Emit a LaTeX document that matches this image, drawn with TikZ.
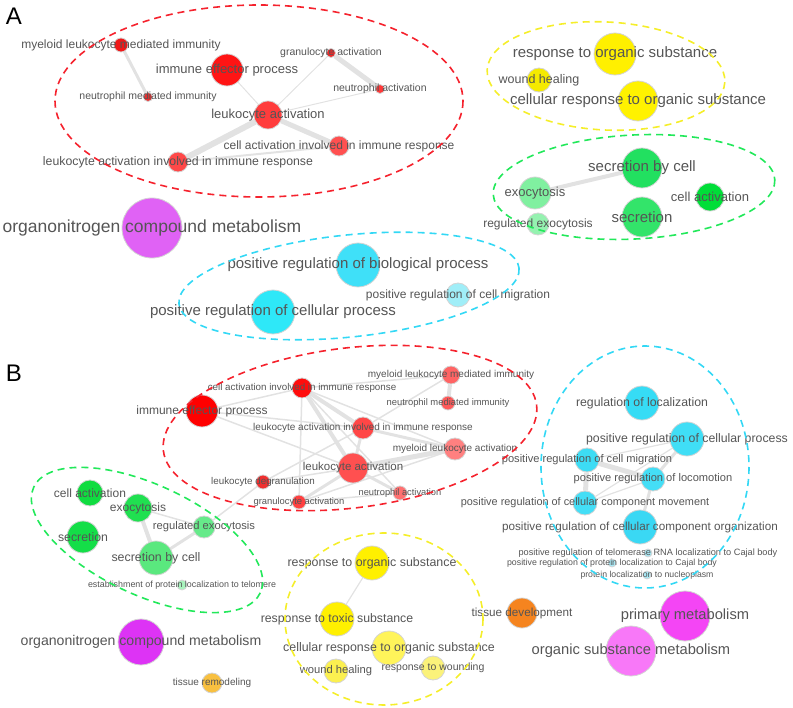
\documentclass[tikz,border=0pt]{standalone}
\usepackage{fontspec}
\setmainfont{Liberation Sans}
\usepackage{xcolor}
\usetikzlibrary{backgrounds}

\definecolor{labelgray}{HTML}{555555}
\definecolor{rimgray}{HTML}{D4D4D4}
\definecolor{linkgray}{HTML}{E2E2E2}
\definecolor{redline}{HTML}{F5222D}
\definecolor{yellowline}{HTML}{F5EE2A}
\definecolor{greenline}{HTML}{22E85A}
\definecolor{cyanline}{HTML}{33D8F5}

\newcommand\fs[1]{\fontsize{#1}{#1}\selectfont}

\begin{document}
\begin{tikzpicture}[
  x=1pt, y=-1pt,
  gonode/.style={
    circle,
    draw=rimgray,
    line width=0.8pt,
    inner sep=0pt,
    minimum size=2*#1
  },
  lbl/.style={
    text=labelgray,
    inner sep=0pt
  },
  link/.style={
    draw=linkgray,
    line width=#1
  },
  link/.default=1.5,
  cluster/.style={
    line width=1.6pt,
    dash pattern=on 7pt off 5pt
  },
  panel/.style={
    font=\fs{24},
    inner sep=0pt
  }
]
\useasboundingbox (0,0) rectangle (793,708);

% Panel letters
\node[panel] (pA) at (14,16) {A};
\node[panel] (pB) at (14,373) {B};

% ---------------- Panel A: terms
\node[gonode=7,  fill={rgb,255:red,240;green,24;blue,24}]   (amlmi)  at (121,45)  {};
\node[gonode=16, fill={rgb,255:red,255;green,20;blue,20}]   (aiep)   at (227,70)  {};
\node[gonode=4.5,fill={rgb,255:red,240;green,40;blue,40}]   (agran)  at (331,53)  {};
\node[gonode=4.5,fill={rgb,255:red,255;green,56;blue,56}]   (aneua)  at (380,89)  {};
\node[gonode=4.5,fill={rgb,255:red,232;green,48;blue,48}]   (aneumi) at (148,97)  {};
\node[gonode=14, fill={rgb,255:red,255;green,60;blue,60}]   (aleuk)  at (268,115) {};
\node[gonode=10, fill={rgb,255:red,255;green,80;blue,80}]   (acaiir) at (339,146) {};
\node[gonode=10, fill={rgb,255:red,255;green,72;blue,72}]   (alaiir) at (178,162) {};
\node[gonode=30, fill={rgb,255:red,224;green,98;blue,245}]  (aorgn)  at (152,228) {};
\node[gonode=21, fill={rgb,255:red,255;green,240;blue,0}]   (aresp)  at (615,54)  {};
\node[gonode=12, fill={rgb,255:red,245;green,234;blue,0}]   (awound) at (539,80)  {};
\node[gonode=20, fill={rgb,255:red,255;green,242;blue,0}]   (acell)  at (638,101) {};
\node[gonode=20, fill={rgb,255:red,34;green,224;blue,96}]   (asecc)  at (642,168) {};
\node[gonode=16, fill={rgb,255:red,128;green,240;blue,160}] (aexo)   at (535,193) {};
\node[gonode=14, fill={rgb,255:red,0;green,222;blue,56}]    (acact)  at (710,197) {};
\node[gonode=20, fill={rgb,255:red,51;green,228;blue,106}]  (asecr)  at (642,217) {};
\node[gonode=11, fill={rgb,255:red,149;green,242;blue,176}] (aregex) at (538,224) {};
\node[gonode=22, fill={rgb,255:red,63;green,224;blue,248}]  (apbio)  at (358,265) {};
\node[gonode=22, fill={rgb,255:red,46;green,232;blue,248}]  (apcell) at (273,312) {};
\node[gonode=12, fill={rgb,255:red,160;green,238;blue,248}] (apmig)  at (458,295) {};

% ---------------- Panel B: terms
\node[gonode=10, fill={rgb,255:red,255;green,12;blue,12}]   (bcaiir) at (302,388) {};
\node[gonode=16, fill={rgb,255:red,255;green,0;blue,0}]     (biep)   at (202,411) {};
\node[gonode=11, fill={rgb,255:red,255;green,70;blue,70}]   (blaiir) at (363,428) {};
\node[gonode=15, fill={rgb,255:red,255;green,80;blue,80}]   (bleuk)  at (353,468) {};
\node[gonode=7,  fill={rgb,255:red,240;green,48;blue,48}]   (bdegr)  at (263,482) {};
\node[gonode=7,  fill={rgb,255:red,255;green,64;blue,64}]   (bgran)  at (299,502) {};
\node[gonode=9,  fill={rgb,255:red,255;green,100;blue,100}] (bmlmi)  at (451,375) {};
\node[gonode=7,  fill={rgb,255:red,255;green,90;blue,90}]   (bneumi) at (448,403) {};
\node[gonode=11, fill={rgb,255:red,255;green,128;blue,128}] (bmla)   at (455,449) {};
\node[gonode=7,  fill={rgb,255:red,255;green,112;blue,112}] (bneua)  at (400,493) {};
\node[gonode=13, fill={rgb,255:red,16;green,220;blue,64}]   (bcact)  at (90,493)  {};
\node[gonode=14, fill={rgb,255:red,32;green,224;blue,80}]   (bexo)   at (138,508) {};
\node[gonode=16, fill={rgb,255:red,20;green,222;blue,72}]   (bsecr)  at (83,537)  {};
\node[gonode=11, fill={rgb,255:red,102;green,234;blue,138}] (bregex) at (204,527) {};
\node[gonode=17, fill={rgb,255:red,90;green,232;blue,126}]  (bsecc)  at (156,558) {};
\node[gonode=5,  fill={rgb,255:red,168;green,242;blue,189}] (bestab) at (182,585) {};
\node[gonode=17, fill={rgb,255:red,54;green,220;blue,245}]  (breglo) at (642,403) {};
\node[gonode=17, fill={rgb,255:red,64;green,222;blue,246}]  (bpcell) at (687,439) {};
\node[gonode=12, fill={rgb,255:red,61;green,220;blue,244}]  (bpmig)  at (587,460) {};
\node[gonode=12, fill={rgb,255:red,68;green,222;blue,246}]  (bploc)  at (653,479) {};
\node[gonode=12, fill={rgb,255:red,68;green,222;blue,246}]  (bpmov)  at (585,503) {};
\node[gonode=17, fill={rgb,255:red,58;green,216;blue,244}]  (bporg)  at (640,527) {};
\node[gonode=4,  fill={rgb,255:red,168;green,232;blue,245}] (btelo)  at (648,553) {};
\node[gonode=4,  fill={rgb,255:red,168;green,232;blue,245}] (bcajal) at (612,563) {};
\node[gonode=4,  fill={rgb,255:red,168;green,232;blue,245}] (bnucl)  at (647,575) {};
\node[gonode=23, fill={rgb,255:red,221;green,51;blue,245}]  (borgn)  at (141,642) {};
\node[gonode=10, fill={rgb,255:red,248;green,192;blue,64}]  (bremod) at (212,683) {};
\node[gonode=17, fill={rgb,255:red,255;green,240;blue,0}]   (bresp)  at (372,563) {};
\node[gonode=17, fill={rgb,255:red,255;green,240;blue,0}]   (btox)   at (337,619) {};
\node[gonode=17, fill={rgb,255:red,255;green,244;blue,90}]  (bcell)  at (389,648) {};
\node[gonode=12, fill={rgb,255:red,251;green,240;blue,80}]  (bwound) at (336,671) {};
\node[gonode=12, fill={rgb,255:red,251;green,242;blue,122}] (bwoundg) at (433,668) {};
\node[gonode=15, fill={rgb,255:red,245;green,132;blue,31}]  (bdev)   at (522,613) {};
\node[gonode=25, fill={rgb,255:red,244;green,69;blue,245}]  (bprim)  at (685,616) {};
\node[gonode=25, fill={rgb,255:red,248;green,120;blue,248}] (bosm)   at (631,651) {};

% Similarity links
\begin{scope}[on background layer]
\draw[link=3] (amlmi) -- (aneumi);
\draw[link=1] (aiep) -- (aleuk);
\draw[link=1] (agran) -- (aleuk);
\draw[link=5] (agran) -- (aneua);
\draw[link=1] (aneua) -- (aleuk);
\draw[link=5] (aleuk) -- (acaiir);
\draw[link=6] (aleuk) -- (alaiir);
\draw[link=2] (alaiir) -- (acaiir);
\draw[link=4] (aexo) -- (asecc);

\draw[link] (biep) -- (bcaiir);
\draw[link] (biep) -- (blaiir);
\draw[link] (biep) -- (bleuk);
\draw[link] (bcaiir) -- (bmlmi);
\draw[link=4] (bcaiir) -- (blaiir);
\draw[link=4] (bcaiir) -- (bleuk);
\draw[link] (bcaiir) -- (bgran);
\draw[link] (bcaiir) -- (bneua);
\draw[link] (bcaiir) -- (bmla);
\draw[link] (blaiir) -- (bmlmi);
\draw[link=3] (blaiir) -- (bleuk);
\draw[link] (blaiir) -- (bdegr);
\draw[link=3] (blaiir) -- (bmla);
\draw[link=5] (bleuk) -- (bmla);
\draw[link=3] (bleuk) -- (bgran);
\draw[link=3] (bleuk) -- (bneua);
\draw[link] (bleuk) -- (bdegr);
\draw[link=4] (bmlmi) -- (bneumi);
\draw[link] (bgran) -- (bneua);
\draw[link] (bgran) -- (bmla);
\draw[link] (bdegr) -- (bregex);
\draw[link=4] (bexo) -- (bsecc);
\draw[link] (bexo) -- (bregex);
\draw[link=3] (bsecc) -- (bregex);
\draw[link=1.2] (bpcell) -- (bpmig);
\draw[link=3] (bpcell) -- (bploc);
\draw[link=1.2] (bpcell) -- (bpmov);
\draw[link=5] (bpmig) -- (bploc);
\draw[link=5] (bpmig) -- (bpmov);
\draw[link=1.2] (bploc) -- (bpmov);
\draw[link=3] (bploc) -- (bporg);
\draw[link=1.2] (bresp) -- (btox);
\end{scope}

% Term names, panel A
\node[lbl, font=\fs{12}]   at (amlmi)  {myeloid leukocyte mediated immunity};
\node[lbl, font=\fs{13}]   at (aiep)   {immune effector process};
\node[lbl, font=\fs{10.5}] at (agran)  {granulocyte activation};
\node[lbl, font=\fs{10.5}] at (aneua)  {neutrophil activation};
\node[lbl, font=\fs{10.5}] at (aneumi) {neutrophil mediated immunity};
\node[lbl, font=\fs{13}]   at (aleuk)  {leukocyte activation};
\node[lbl, font=\fs{12}]   at (acaiir) {cell activation involved in immune response};
\node[lbl, font=\fs{12.3}] at (alaiir) {leukocyte activation involved in immune response};
\node[lbl, font=\fs{17.5}] at (aorgn)  {organonitrogen compound metabolism};
\node[lbl, font=\fs{15}]   at (aresp)  {response to organic substance};
\node[lbl, font=\fs{12.5}] at (awound) {wound healing};
\node[lbl, font=\fs{15}]   at (acell)  {cellular response to organic substance};
\node[lbl, font=\fs{15}]   at (asecc)  {secretion by cell};
\node[lbl, font=\fs{13}]   at (aexo)   {exocytosis};
\node[lbl, font=\fs{13}]   at (acact)  {cell activation};
\node[lbl, font=\fs{15}]   at (asecr)  {secretion};
\node[lbl, font=\fs{12}]   at (aregex) {regulated exocytosis};
\node[lbl, font=\fs{15}]   at (apbio)  {positive regulation of biological process};
\node[lbl, font=\fs{15}]   at (apcell) {positive regulation of cellular process};
\node[lbl, font=\fs{12}]   at (apmig)  {positive regulation of cell migration};

% Term names, panel B
\node[lbl, font=\fs{9.8}]  at (bcaiir) {cell activation involved in immune response};
\node[lbl, font=\fs{12}]   at (biep)   {immune effector process};
\node[lbl, font=\fs{10}]   at (blaiir) {leukocyte activation involved in immune response};
\node[lbl, font=\fs{11.5}] at (bleuk)  {leukocyte activation};
\node[lbl, font=\fs{9.8}]  at (bdegr)  {leukocyte degranulation};
\node[lbl, font=\fs{9.4}]  at (bgran)  {granulocyte activation};
\node[lbl, font=\fs{10}]   at (bmlmi)  {myeloid leukocyte mediated immunity};
\node[lbl, font=\fs{9.4}]  at (bneumi) {neutrophil mediated immunity};
\node[lbl, font=\fs{10}]   at (bmla)   {myeloid leukocyte activation};
\node[lbl, font=\fs{9.3}]  at (bneua)  {neutrophil activation};
\node[lbl, font=\fs{12}]   at (bcact)  {cell activation};
\node[lbl, font=\fs{12}]   at (bexo)   {exocytosis};
\node[lbl, font=\fs{12.3}] at (bsecr)  {secretion};
\node[lbl, font=\fs{11.2}] at (bregex) {regulated exocytosis};
\node[lbl, font=\fs{12.4}] at (bsecc)  {secretion by cell};
\node[lbl, font=\fs{8.9}]  at (bestab) {establishment of protein localization to telomere};
\node[lbl, font=\fs{12.3}] at (breglo) {regulation of localization};
\node[lbl, font=\fs{12.3}] at (bpcell) {positive regulation of cellular process};
\node[lbl, font=\fs{11.1}] at (bpmig)  {positive regulation of cell migration};
\node[lbl, font=\fs{11.1}] at (bploc)  {positive regulation of locomotion};
\node[lbl, font=\fs{10.9}] at (bpmov)  {positive regulation of cellular component movement};
\node[lbl, font=\fs{11.7}] at (bporg)  {positive regulation of cellular component organization};
\node[lbl, font=\fs{9.2}]  at (btelo)  {positive regulation of telomerase RNA localization to Cajal body};
\node[lbl, font=\fs{8.8}]  at (bcajal) {positive regulation of protein localization to Cajal body};
\node[lbl, font=\fs{8.7}]  at (bnucl)  {protein localization to nucleoplasm};
\node[lbl, font=\fs{14.1}] at (borgn)  {organonitrogen compound metabolism};
\node[lbl, font=\fs{10}]   at (bremod) {tissue remodeling};
\node[lbl, font=\fs{12.4}] at (bresp)  {response to organic substance};
\node[lbl, font=\fs{12.3}] at (btox)   {response to toxic substance};
\node[lbl, font=\fs{12.4}] at (bcell)  {cellular response to organic substance};
\node[lbl, font=\fs{11.2}] at (bwound) {wound healing};
\node[lbl, font=\fs{10.5}] at (bwoundg) {response to wounding};
\node[lbl, font=\fs{11.7}] at (bdev)   {tissue development};
\node[lbl, font=\fs{14.7}] at (bprim)  {primary metabolism};
\node[lbl, font=\fs{14.7}] at (bosm)   {organic substance metabolism};

% Cluster outlines
\draw[cluster, draw=redline] (259,101) ellipse [x radius=204, y radius=96];
\draw[cluster, draw=yellowline, rotate around={-3:(606,76)}] (606,76) ellipse [x radius=119, y radius=54];
\draw[cluster, draw=greenline, rotate around={3:(634,187)}] (634,187) ellipse [x radius=141, y radius=52];
\draw[cluster, draw=cyanline, rotate around={6:(349,286)}] (349,286) ellipse [x radius=171, y radius=51];
\draw[cluster, draw=redline, rotate around={7:(350,428)}] (350,428) ellipse [x radius=188, y radius=80];
\draw[cluster, draw=greenline, rotate around={-25:(147,540)}] (147,540) ellipse [x radius=125, y radius=55];
\draw[cluster, draw=cyanline] (645,467) ellipse [x radius=104, y radius=121];
\draw[cluster, draw=yellowline] (384,619) ellipse [x radius=99, y radius=86];

\end{tikzpicture}
\end{document}
